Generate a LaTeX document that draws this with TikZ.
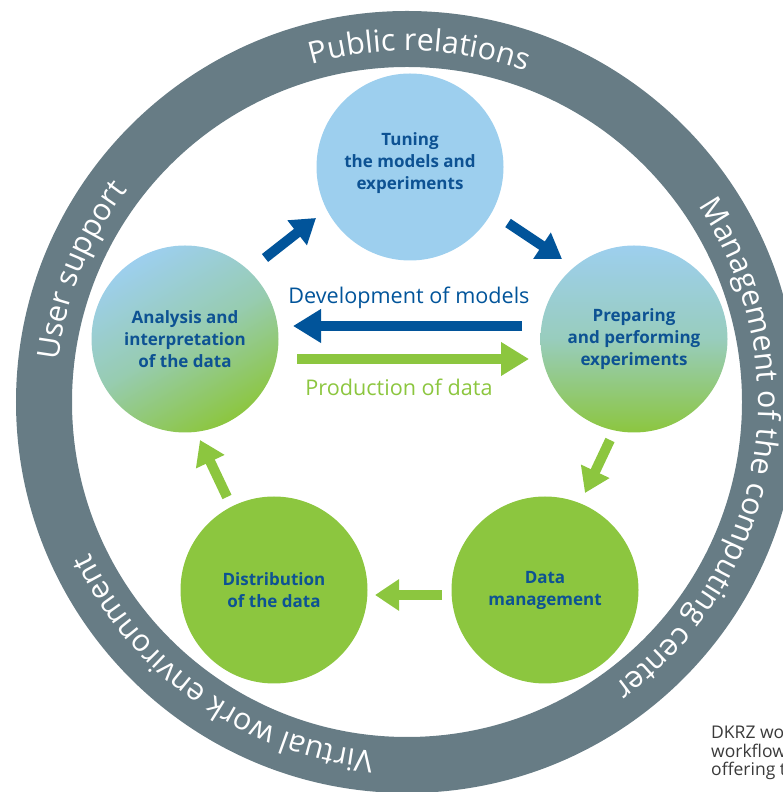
\documentclass[tikz,border=0pt]{standalone}
\usepackage{fontspec}
\setmainfont{Open Sans}
\usetikzlibrary{arrows.meta,decorations.text,calc}
\definecolor{ringcol}{HTML}{677C85}
\definecolor{lb}{HTML}{9DCFEE}
\definecolor{grn}{HTML}{8CC63F}
\definecolor{dblue}{HTML}{0D5293}
\definecolor{ablue}{HTML}{01549A}
\definecolor{capgray}{HTML}{3A3A3A}
\newcommand\myringfont{\fontsize{30.5}{30.5}\selectfont}
\begin{document}
\begin{tikzpicture}[x=1pt,y=1pt,
  stage/.style={circle, minimum size=187pt, inner sep=0pt, align=center, text=dblue,
    font=\fontsize{17}{22}\selectfont\bfseries},
  stagetext/.style={align=center, text=dblue, inner sep=0pt, font=\fontsize{17}{22}\selectfont\bfseries},
  barrow/.style={line width=10pt, draw=ablue, -{Triangle[length=24pt,width=30pt]}},
  garrow/.style={line width=10pt, draw=grn, -{Triangle[length=24pt,width=30pt]}},
  ringtext/.style={decorate, decoration={text along path, text align=center, text color=white, text={#1}}}
]
\useasboundingbox (0,0) rectangle (783,792);
\clip (0,0) rectangle (783,792);
\coordinate (C) at (407,390);
% ring
\draw[ringcol, line width=56pt] (C) circle[radius=363];
% ring texts (clockwise, tops outward)
\path[ringtext={|\myringfont|Public relations}] ($(C)+(148:351)$) arc[start angle=148, end angle=28, radius=351];
\path[ringtext={|\myringfont|User support}] ($(C)+(218:351)$) arc[start angle=218, end angle=98, radius=351];
\path[ringtext={|\myringfont|Management of the computing center}] ($(C)+(80:351)$) arc[start angle=80, end angle=-100, radius=351];
\path[ringtext={|\myringfont|Virtual work environment}] ($(C)+(310:351)$) arc[start angle=310, end angle=160, radius=351];
% stages
\node[stage, fill=lb] (tun) at (410,625) {};
\node[stagetext] (tuntext) at ($(tun)+(0,4)$) {Tuning\\the models and\\experiments};
\node[stage, top color=lb, bottom color=grn, middle color=lb!65!grn, shading angle=30] (ana) at (185,453) {Analysis and\\interpretation\\of the data};
\node[stage, top color=lb, bottom color=grn, middle color=lb!72!grn] (pre) at (634,453) {Preparing\\and performing\\experiments};
\node[stage, fill=grn] (dis) at (274,202) {Distribution\\of the data};
\node[stage, fill=grn] (dat) at (545,202) {Data\\management};
% arrow ends
\coordinate (a2t-s) at ($(ana)+(80,81)$);
\coordinate (a2t-e) at ($(tun)+(-94,-51)$);
\coordinate (t2p-s) at ($(tun)+(98,-56)$);
\coordinate (t2p-e) at ($(pre)+(-72,80)$);
\coordinate (p2d-s) at ($(pre)+(-24,-101)$);
\coordinate (p2d-e) at ($(dat)+(40,97)$);
\coordinate (d2s-s) at ($(dat)+(-103,-5)$);
\coordinate (d2s-e) at ($(dis)+(101,-5)$);
\coordinate (s2a-s) at ($(dis)+(-47,93)$);
\coordinate (s2a-e) at ($(ana)+(15,-101)$);
\coordinate (dev-s) at ($(pre)+(-112,13)$);
\coordinate (dev-e) at ($(ana)+(108,13)$);
\coordinate (prod-s) at ($(ana)+(112,-20)$);
\coordinate (prod-e) at ($(pre)+(-105,-20)$);
\draw[barrow] (a2t-s) -- (a2t-e);
\draw[barrow] (t2p-s) -- (t2p-e);
\draw[garrow] (p2d-s) -- (p2d-e);
\draw[garrow] (d2s-s) -- (d2s-e);
\draw[garrow] (s2a-s) -- (s2a-e);
\draw[barrow, -{Triangle[length=28pt,width=32pt]}] (dev-s) -- (dev-e);
\draw[garrow, -{Triangle[length=28pt,width=32pt]}] (prod-s) -- (prod-e);
% labels
\node[anchor=base, text=ablue, font=\fontsize{21.6}{21.6}\selectfont, inner sep=0] (devlabel) at (409,488) {Development of models};
\node[anchor=base, text=grn, font=\fontsize{21.6}{21.6}\selectfont, inner sep=0] (prodlabel) at (399,396) {Production of data};
% caption fragment (cut at the right edge, as in the reference)
\node[anchor=north west, align=left, text=capgray, font=\fontsize{17.5}{18.5}\selectfont, inner sep=0] (cap) at (711,66) {DKRZ wo\\workflow\\offering t};
\end{tikzpicture}
\end{document}
